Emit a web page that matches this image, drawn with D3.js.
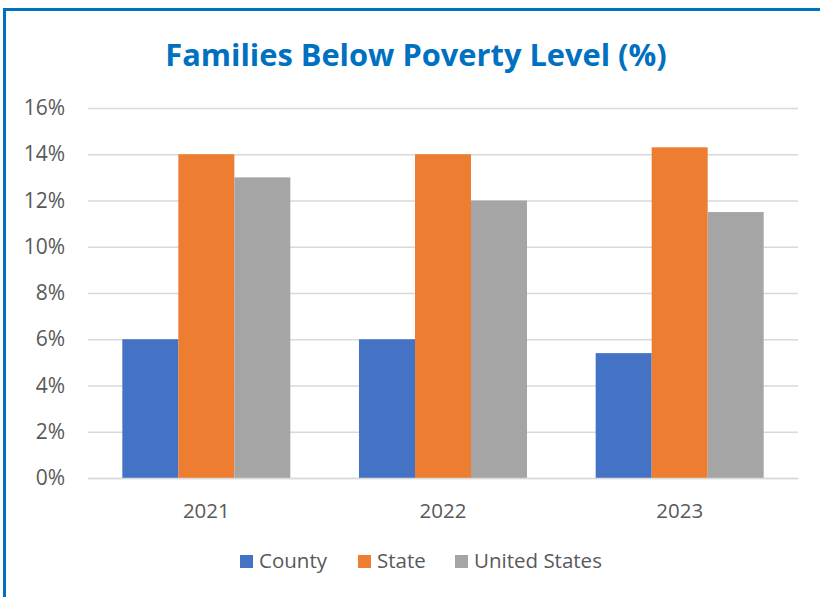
<!DOCTYPE html>
<html><head><meta charset="utf-8">
<script src="https://cdn.jsdelivr.net/npm/d3@7"></script>
<style>html,body{margin:0;padding:0;background:#fff;overflow:hidden}</style>
</head><body>
<svg id="chart" width="820" height="597"></svg>
<script>
const title = "Families Below Poverty Level (%)";
const categories = ["2021", "2022", "2023"];
const seriesNames = ["County", "State", "United States"];
const county = [6.0, 6.0, 5.4];
const state = [14.0, 14.0, 14.3];
const unitedStates = [13.0, 12.0, 11.5];
const yTicks = [0, 2, 4, 6, 8, 10, 12, 14, 16];
const colors = ["#4472C4", "#ED7D31", "#A5A5A5"];

(function () {
const seriesValues = [county, state, unitedStates];
const svg = d3.select("#chart");
const font = "'Open Sans', 'Liberation Sans', sans-serif";

// frame
svg.append("rect").attr("x", 4.5).attr("y", 9.5).attr("width", 900).attr("height", 700)
  .attr("fill", "none").attr("stroke", "#0070C0").attr("stroke-width", 3);

const mLeft = 88, mRight = 798, mTop = 108, mBottom = 478;
const x = d3.scaleBand().domain(categories).range([mLeft, mRight]).paddingInner(0).paddingOuter(0);
const y = d3.scaleLinear().domain([0, 16]).range([mBottom, mTop]);
const inner = d3.scaleBand().domain(seriesNames).range([0, x.bandwidth()]).paddingInner(0).paddingOuter(0.613);

// title
svg.append("text").attr("x", 416).attr("y", 66).attr("text-anchor", "middle")
  .attr("font-family", font).attr("font-weight", "bold").attr("font-size", 30.8)
  .attr("fill", "#0070C0").text(title);

// grid
const yAxis = d3.axisLeft(y).tickValues(yTicks).tickFormat(d => d + "%").tickSize(-(mRight - mLeft)).tickPadding(23);
const gy = svg.append("g").attr("transform", `translate(${mLeft},0)`).call(yAxis);
gy.select(".domain").remove();
gy.selectAll(".tick line").attr("stroke", "#D9D9D9").attr("stroke-width", 1.5);
gy.selectAll(".tick text").attr("font-family", font).attr("font-size", 21).attr("fill", "#595959");

// bars
categories.forEach((c, i) => {
  seriesNames.forEach((s, j) => {
    const v = seriesValues[j][i];
    svg.append("rect")
      .attr("x", x(c) + inner(s))
      .attr("y", y(v))
      .attr("width", inner.bandwidth())
      .attr("height", y(0) - y(v))
      .attr("fill", colors[j]);
  });
});

// x axis
const xAxis = d3.axisBottom(x).tickSize(0).tickPadding(25);
const gx = svg.append("g").attr("transform", `translate(0,${mBottom})`).call(xAxis);
gx.select(".domain").attr("stroke", "#D9D9D9").attr("stroke-width", 1.5);
gx.selectAll(".tick text").attr("font-family", font).attr("font-size", 20.5).attr("fill", "#595959");

// legend
const legendItems = [
  {name: seriesNames[0], color: colors[0], x: 240},
  {name: seriesNames[1], color: colors[1], x: 358},
  {name: seriesNames[2], color: colors[2], x: 455}
];
const lg = svg.append("g");
legendItems.forEach(it => {
  lg.append("rect").attr("x", it.x).attr("y", 555).attr("width", 13).attr("height", 13).attr("fill", it.color);
  lg.append("text").attr("x", it.x + 19).attr("y", 568).attr("font-family", font).attr("font-size", 20.5)
    .attr("fill", "#595959").text(it.name);
});
})();
</script>
</body></html>
